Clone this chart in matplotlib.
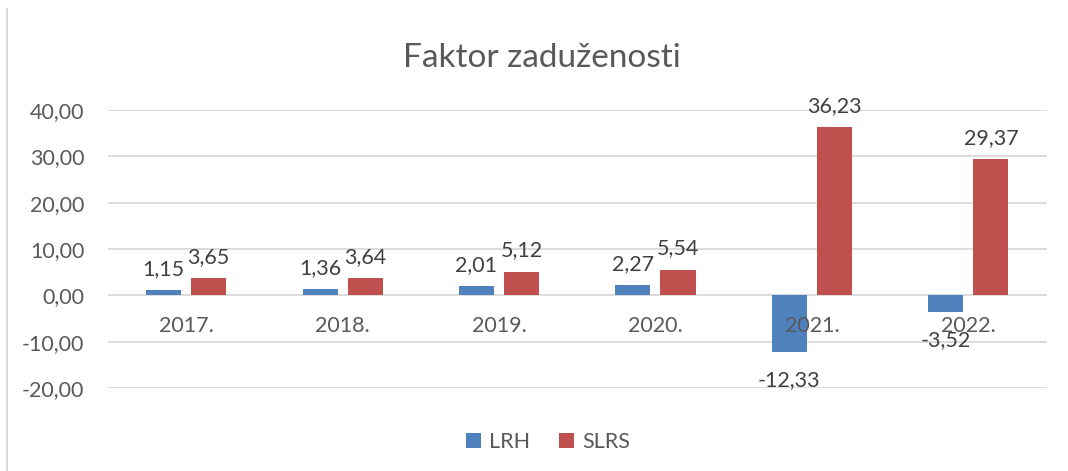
import matplotlib
matplotlib.use('Agg')
import matplotlib.pyplot as plt
from matplotlib.ticker import FuncFormatter
from matplotlib.lines import Line2D
import numpy as np

# podaci
years = ['2017.', '2018.', '2019.', '2020.', '2021.', '2022.']
lrh = [1.15, 1.36, 2.01, 2.27, -12.33, -3.52]
slrs = [3.65, 3.64, 5.12, 5.54, 36.23, 29.37]
yticks = [-20, -10, 0, 10, 20, 30, 40]

BLUE = '#4F81BD'
RED = '#C0504D'
TXT = '#595959'
GRID = '#D9D9D9'
FS = 15.5

plt.rcParams['font.family'] = ['Lato', 'DejaVu Sans']


def fmt(v):
    return f'{v:.2f}'.replace('.', ',')


fig = plt.figure(figsize=(10.68, 4.71), dpi=100)
ax = fig.add_axes([0.101, 0.1762, 0.879, 0.5903])

x = np.arange(len(years))
w = 0.224
off = 0.144
b1 = ax.bar(x - off, lrh, w, color=BLUE, label='LRH', zorder=1)
b2 = ax.bar(x + off, slrs, w, color=RED, label='SLRS', zorder=1)

# vrijednosti iznad / ispod stupaca
for bars, vals in ((b1, lrh), (b2, slrs)):
    for r, v in zip(bars, vals):
        cx = r.get_x() + r.get_width() / 2
        if v >= 0:
            ax.annotate(fmt(v), (cx, v), xytext=(0, 8), textcoords='offset points',
                        ha='center', va='bottom', fontsize=FS, color='#404040', zorder=3)
        else:
            ax.annotate(fmt(v), (cx, v), xytext=(0, -13), textcoords='offset points',
                        ha='center', va='top', fontsize=FS, color='#404040', zorder=3)

# mreza
for t in yticks:
    ax.axhline(t, color=GRID, lw=1.3, zorder=0)

ax.set_xlim(-0.5, len(years) - 0.5)
ax.set_ylim(-20, 40)
ax.set_yticks(yticks)
ax.yaxis.set_major_formatter(FuncFormatter(lambda v, p: fmt(v)))
ax.set_xticks(x)
ax.set_xticklabels(years)
ax.set_axisbelow(False)
ax.spines['bottom'].set_position(('data', 0))
for s in ax.spines.values():
    s.set_visible(False)
ax.tick_params(axis='x', length=0, pad=15, labelsize=FS, labelcolor=TXT)
ax.tick_params(axis='y', length=0, pad=17, labelsize=FS, labelcolor=TXT)

fig.suptitle('Faktor zaduženosti', x=0.507, y=0.908, fontsize=24, color=TXT)

fig.legend(loc='center', bbox_to_anchor=(0.513, 0.062), ncol=2, frameon=False,
           fontsize=FS, labelcolor=TXT, handlelength=0.7, handleheight=0.7,
           handletextpad=0.4, columnspacing=1.3)

# lijevi rub okvira
fig.add_artist(Line2D([0.0066, 0.0066], [0.0, 0.98], transform=fig.transFigure,
                      color=GRID, lw=1.5))

fig.savefig('out.png', dpi=100)
